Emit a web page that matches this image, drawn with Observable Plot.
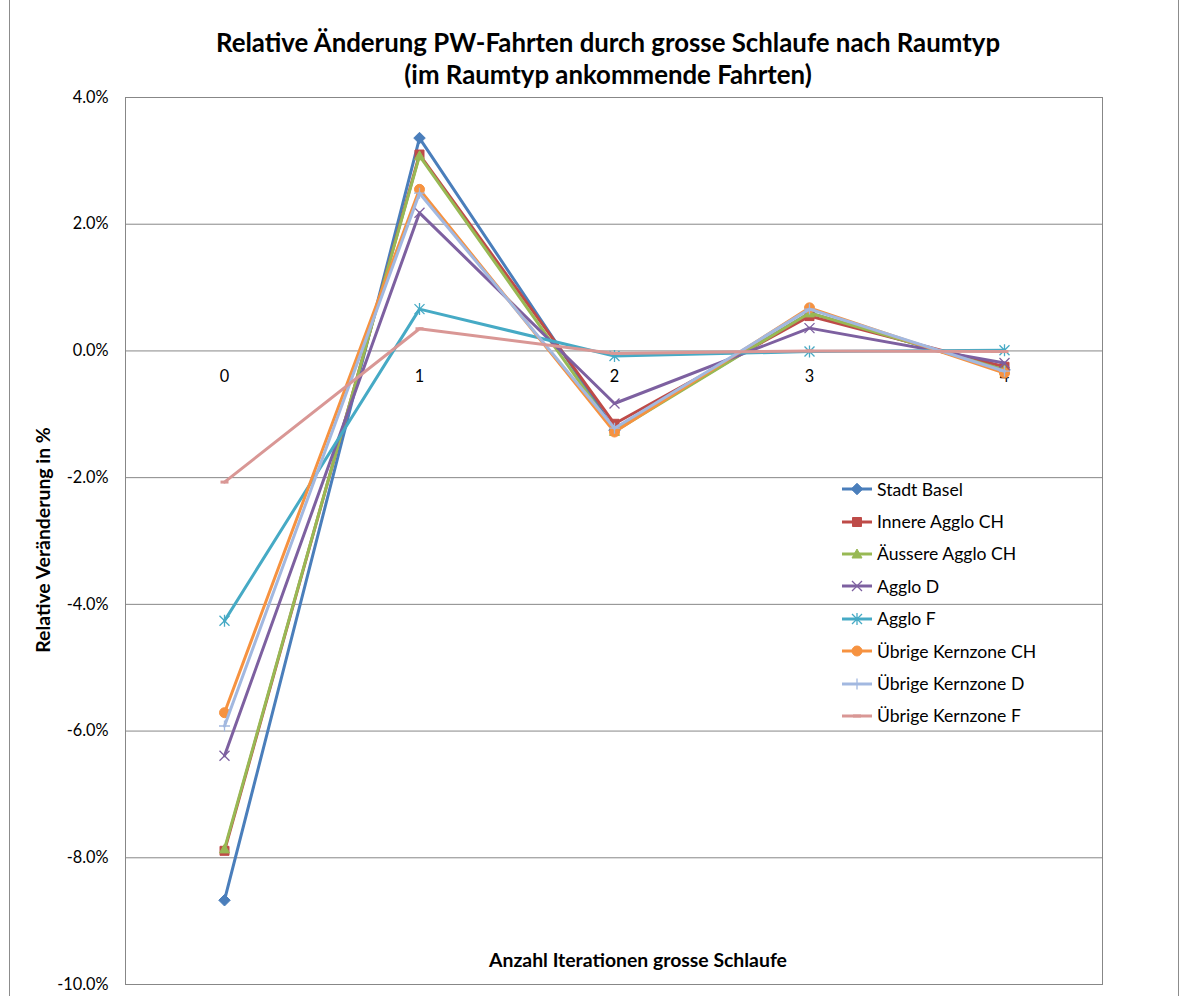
<!DOCTYPE html>
<html><head><meta charset="utf-8">
<script src="https://cdn.jsdelivr.net/npm/d3@7"></script>
<script src="https://cdn.jsdelivr.net/npm/@observablehq/plot@0.6"></script>
<style>
body{margin:0;background:#fff;font-family:Lato,"Open Sans",sans-serif;color:#000;}
#wrap{position:relative;width:1186px;height:996px;overflow:hidden;background:#fff;}
#border{position:absolute;left:9px;top:-3px;width:1170px;height:1010px;border:1px solid #8c8c8c;box-sizing:border-box;}
#chart{position:absolute;left:0;top:0;}
.title{position:absolute;left:0;width:1216px;text-align:center;font-weight:bold;font-size:25.8px;line-height:30px;}
#ytitle{position:absolute;left:42px;top:540px;transform:translate(-50%,-50%) rotate(-90deg);font-weight:bold;font-size:19.4px;white-space:nowrap;}
#xtitle{position:absolute;left:638px;top:959px;transform:translate(-50%,-50%);font-weight:bold;font-size:19.4px;white-space:nowrap;}
#legend{position:absolute;left:840px;top:473px;}
.lrow{display:flex;align-items:center;height:32.4px;font-size:17.6px;white-space:nowrap;}
.lrow svg{margin-right:3px;}
</style></head><body>
<div id="wrap">
  <div id="border"></div>
  <div id="chart"></div>
  <div class="title" style="top:27px">Relative Änderung PW-Fahrten durch grosse Schlaufe nach Raumtyp</div>
  <div class="title" style="top:59px">(im Raumtyp ankommende Fahrten)</div>
  <div id="ytitle">Relative Veränderung in %</div>
  <div id="xtitle">Anzahl Iterationen grosse Schlaufe</div>
  <div id="legend"></div>
</div>
<script>
// ---- data ----
const iterations = [0, 1, 2, 3, 4];
const seriesNames = ["Stadt Basel", "Innere Agglo CH", "Äussere Agglo CH", "Agglo D", "Agglo F",
  "Übrige Kernzone CH", "Übrige Kernzone D", "Übrige Kernzone F"];
const stadtBasel       = [-8.67, 3.36, -1.25, 0.60, -0.30];
const innereAggloCH    = [-7.89, 3.10, -1.15, 0.55, -0.25];
const aeussereAggloCH  = [-7.86, 3.08, -1.27, 0.60, -0.30];
const aggloD           = [-6.39, 2.18, -0.83, 0.36, -0.19];
const aggloF           = [-4.26, 0.66, -0.08, -0.01, 0.01];
const uebrigeKernCH    = [-5.71, 2.55, -1.28, 0.68, -0.35];
const uebrigeKernD     = [-5.92, 2.49, -1.22, 0.66, -0.32];
const uebrigeKernF     = [-2.07, 0.35, -0.04, 0.00, -0.01];
const seriesValues = [stadtBasel, innereAggloCH, aeussereAggloCH, aggloD, aggloF, uebrigeKernCH, uebrigeKernD, uebrigeKernF];
const yTicks = [-10, -8, -6, -4, -2, 0, 2, 4];

// ---- styles ----
const colors = ["#4A7EBB", "#BE4B48", "#98B954", "#7D60A0", "#46AAC5", "#F69240", "#A2B8E0", "#D99795"];
const markerKinds = ["diamond", "square", "triangle", "times", "asterisk", "circle", "plus", "dash"];
const filledKinds = new Set(["diamond", "square", "triangle", "circle"]);

function drawMarker(ctx, kind, r) {
  switch (kind) {
    case "diamond": ctx.moveTo(0, -r * 1.15); ctx.lineTo(r * 1.15, 0); ctx.lineTo(0, r * 1.15); ctx.lineTo(-r * 1.15, 0); ctx.closePath(); break;
    case "square": ctx.rect(-r * 0.9, -r * 0.9, r * 1.8, r * 1.8); break;
    case "triangle": ctx.moveTo(0, -r); ctx.lineTo(r, r * 0.8); ctx.lineTo(-r, r * 0.8); ctx.closePath(); break;
    case "times": ctx.moveTo(-r, -r); ctx.lineTo(r, r); ctx.moveTo(r, -r); ctx.lineTo(-r, r); break;
    case "asterisk": ctx.moveTo(-r, -r); ctx.lineTo(r, r); ctx.moveTo(r, -r); ctx.lineTo(-r, r); ctx.moveTo(0, -r * 1.2); ctx.lineTo(0, r * 1.2); break;
    case "circle": ctx.moveTo(r, 0); ctx.arc(0, 0, r, 0, 2 * Math.PI); break;
    case "plus": ctx.moveTo(-r * 1.1, 0); ctx.lineTo(r * 1.1, 0); ctx.moveTo(0, -r * 1.1); ctx.lineTo(0, r * 1.1); break;
    case "dash": ctx.moveTo(-r, 0); ctx.lineTo(r, 0); break;
  }
}
function symbolFor(kind) {
  return { draw(ctx, size) { drawMarker(ctx, kind, Math.sqrt(size / Math.PI)); } };
}

const rows = [];
seriesNames.forEach((name, i) => {
  iterations.forEach((it, j) => rows.push({ series: name, idx: i, iteration: it, value: seriesValues[i][j] }));
});

const marks = [
  Plot.gridY(yTicks, { stroke: "#878787", strokeOpacity: 1, strokeWidth: 1 }),
  Plot.frame({ stroke: "#878787", strokeWidth: 1 }),
  Plot.axisY(yTicks, { tickSize: 0, tickPadding: 17, tickFormat: d => d.toFixed(1) + "%", fontSize: 16.3, label: null }),
  Plot.text(iterations, { x: d => d, y: () => 0, dy: 26, text: d => String(d), fontSize: 16.3 })
];
seriesNames.forEach((name, i) => {
  const data = rows.filter(r => r.idx === i);
  marks.push(Plot.line(data, { x: "iteration", y: "value", stroke: colors[i], strokeWidth: 3, curve: "linear" }));
  const kind = markerKinds[i];
  const filled = filledKinds.has(kind);
  marks.push(Plot.dot(data, {
    x: "iteration", y: "value", symbol: symbolFor(kind), r: kind === "dash" ? 4 : 5,
    fill: filled ? colors[i] : "none", stroke: colors[i], strokeWidth: filled ? 1 : (kind === "dash" ? 3 : 1.3)
  }));
});

const chart = Plot.plot({
  width: 1186, height: 996,
  marginLeft: 125, marginRight: 84, marginTop: 97, marginBottom: 12,
  style: { fontFamily: "Lato, 'Open Sans', sans-serif", fontSize: "16px", color: "#000", background: "transparent" },
  x: { type: "point", domain: iterations, padding: 0.5, axis: null },
  y: { domain: [-10, 4], axis: null },
  marks
});
document.getElementById("chart").appendChild(chart);

// ---- legend ----
const legend = d3.select("#legend");
seriesNames.forEach((name, i) => {
  const row = legend.append("div").attr("class", "lrow");
  const svg = row.append("svg").attr("width", 34).attr("height", 14);
  svg.append("line").attr("x1", 2).attr("x2", 32).attr("y1", 7).attr("y2", 7)
    .attr("stroke", colors[i]).attr("stroke-width", 3);
  const kind = markerKinds[i];
  const p = d3.path();
  drawMarker(p, kind, kind === "dash" ? 4 : 5);
  const filled = filledKinds.has(kind);
  svg.append("path").attr("transform", "translate(17,7)").attr("d", p.toString())
    .attr("fill", filled ? colors[i] : "none").attr("stroke", colors[i])
    .attr("stroke-width", filled ? 1 : (kind === "dash" ? 3 : 1.3));
  row.append("span").text(name);
});
</script>
</body></html>
